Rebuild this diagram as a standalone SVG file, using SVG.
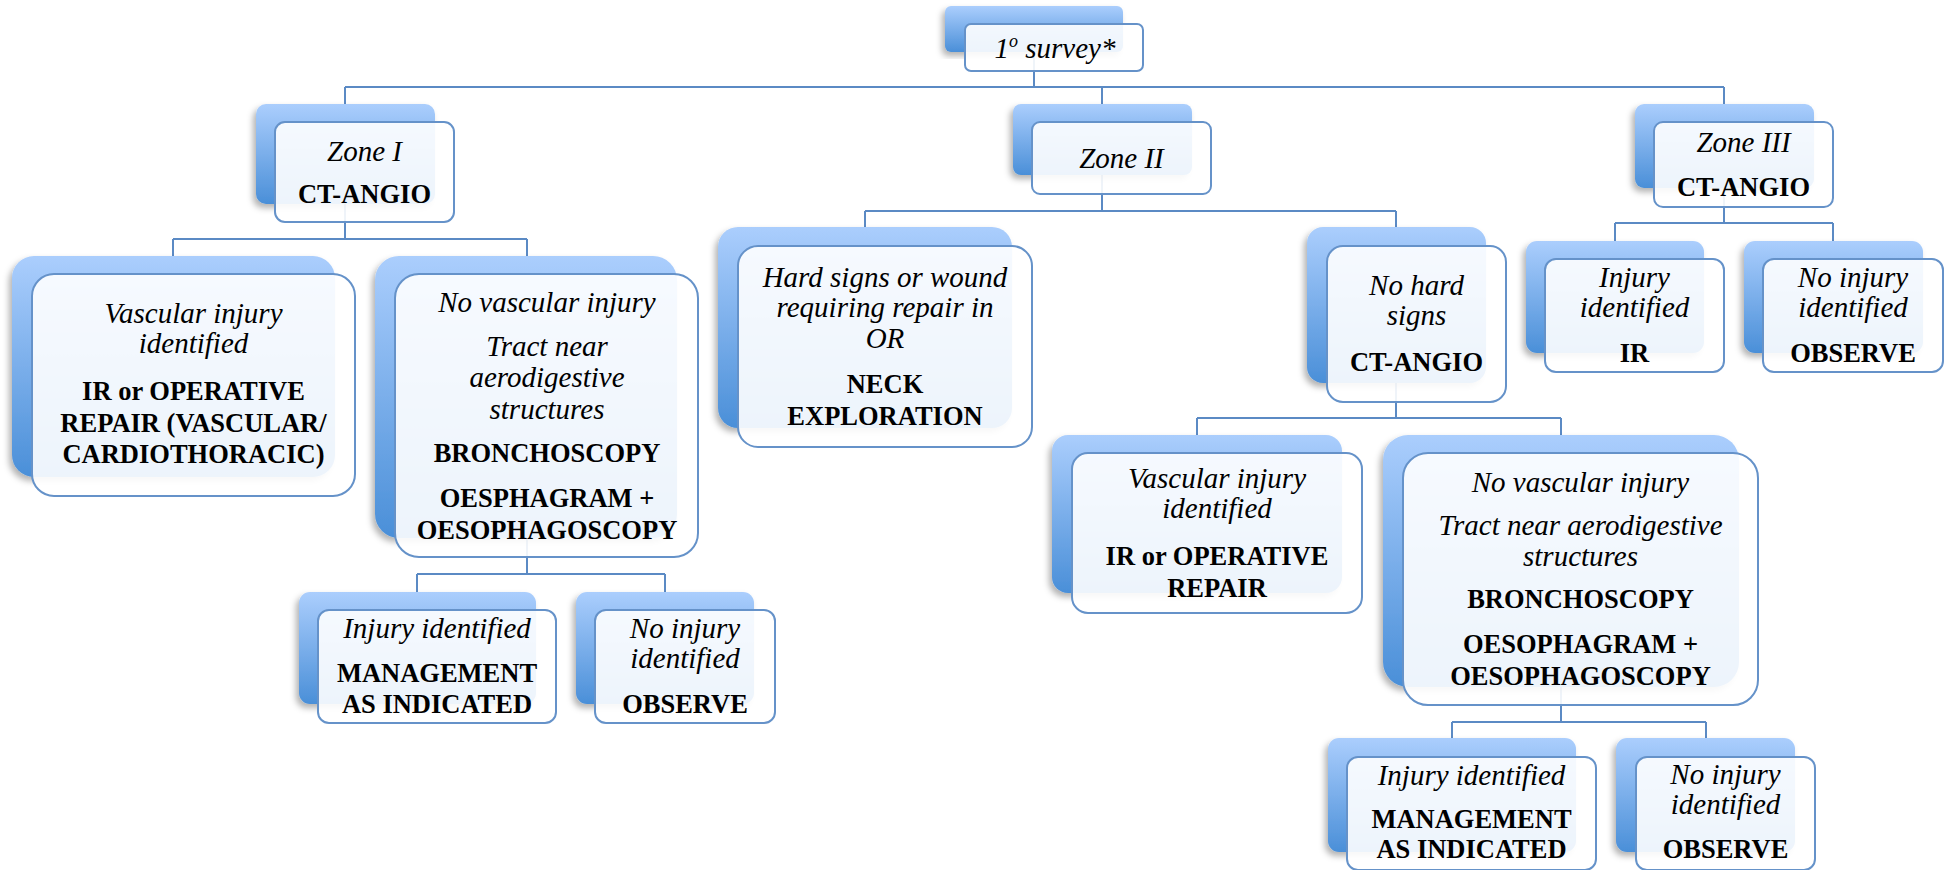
<svg xmlns="http://www.w3.org/2000/svg" width="1952" height="870" viewBox="0 0 1952 870">
<defs>
<linearGradient id="gb" x1="0" y1="0" x2="0" y2="1">
<stop offset="0" stop-color="#abcefd"/>
<stop offset="1" stop-color="#4a8fd8"/>
</linearGradient>
<filter id="sh" x="-10%" y="-10%" width="120%" height="125%">
<feDropShadow dx="-3" dy="4" stdDeviation="3" flood-color="#000" flood-opacity="0.3"/>
</filter>
<style>
.bk{fill:url(#gb);filter:url(#sh);}
.fr{fill:#fff;fill-opacity:0.9;stroke:#6592c9;stroke-width:2;}
.i{font-family:"Liberation Serif","Times New Roman",serif;font-style:italic;font-size:29px;text-anchor:middle;fill:#000;}
.b{font-family:"Liberation Serif","Times New Roman",serif;font-weight:bold;font-size:26.5px;text-anchor:middle;fill:#000;}
.cn{stroke:#5b8ac4;stroke-width:2;fill:none;}
</style>
</defs>
<rect width="1952" height="870" fill="#fff"/>
<g id="connectors" class="cn">
<path d="M1034 52V87M345 87H1724M345 87V104M1102 87V104M1724 87V104"/>
<path d="M345 203V239M173 239H527M173 239V256M527 239V256"/>
<path d="M527 538V574M417 574H665M417 574V592M665 574V592"/>
<path d="M1102 175V211M865 211H1396M865 211V227M1396 211V227"/>
<path d="M1396 383V418M1197 418H1561M1197 418V435M1561 418V435"/>
<path d="M1561 687V722M1452 722H1706M1452 722V738M1706 722V738"/>
<path d="M1724 188V223M1615 223H1833M1615 223V241M1833 223V241"/>
</g>
<g id="survey">
<rect class="bk" x="945" y="6" width="178" height="46" rx="6"/>
<rect class="fr" x="965" y="24" width="178" height="47" rx="6"/>
<text class="i" x="1055" y="58">1<tspan font-size="18" dy="-11">o</tspan><tspan dy="11"> survey*</tspan></text>
</g>
<g id="zone1">
<rect class="bk" x="256" y="104" width="179" height="100" rx="10"/>
<rect class="fr" x="275" y="122" width="179" height="100" rx="10"/>
<text class="i" x="364.5" y="161">Zone I</text>
<text class="b" x="364.5" y="203">CT-ANGIO</text>
</g>
<g id="zone2">
<rect class="bk" x="1013" y="104" width="179" height="71" rx="8"/>
<rect class="fr" x="1032" y="122" width="179" height="72" rx="8"/>
<text class="i" x="1121.5" y="168">Zone II</text>
</g>
<g id="zone3">
<rect class="bk" x="1635" y="104" width="179" height="84" rx="9"/>
<rect class="fr" x="1654" y="122" width="179" height="85" rx="9"/>
<text class="i" x="1743.5" y="152">Zone III</text>
<text class="b" x="1743.5" y="196">CT-ANGIO</text>
</g>
<g id="vascL">
<rect class="bk" x="12" y="256" width="323" height="221" rx="22"/>
<rect class="fr" x="32" y="274" width="323" height="222" rx="22"/>
<text class="i" x="193.5" y="323">Vascular injury</text>
<text class="i" x="193.5" y="353">identified</text>
<text class="b" x="193.5" y="400">IR or OPERATIVE</text>
<text class="b" x="193.5" y="432">REPAIR (VASCULAR/</text>
<text class="b" x="193.5" y="463">CARDIOTHORACIC)</text>
</g>
<g id="novascL">
<rect class="bk" x="375" y="256" width="302" height="282" rx="24"/>
<rect class="fr" x="395" y="274" width="303" height="283" rx="24"/>
<text class="i" x="547" y="312">No vascular injury</text>
<text class="i" x="547" y="356">Tract near</text>
<text class="i" x="547" y="387">aerodigestive</text>
<text class="i" x="547" y="419">structures</text>
<text class="b" x="547" y="462">BRONCHOSCOPY</text>
<text class="b" x="547" y="507">OESPHAGRAM +</text>
<text class="b" x="547" y="539">OESOPHAGOSCOPY</text>
</g>
<g id="hard">
<rect class="bk" x="718" y="227" width="294" height="201" rx="20"/>
<rect class="fr" x="738" y="246" width="294" height="201" rx="20"/>
<text class="i" x="885" y="287">Hard signs or wound</text>
<text class="i" x="885" y="317">requiring repair in</text>
<text class="i" x="885" y="348">OR</text>
<text class="b" x="885" y="393">NECK</text>
<text class="b" x="885" y="425">EXPLORATION</text>
</g>
<g id="nohard">
<rect class="bk" x="1307" y="227" width="179" height="156" rx="16"/>
<rect class="fr" x="1327" y="246" width="179" height="156" rx="16"/>
<text class="i" x="1416.5" y="295">No hard</text>
<text class="i" x="1416.5" y="325">signs</text>
<text class="b" x="1416.5" y="371">CT-ANGIO</text>
</g>
<g id="inj3">
<rect class="bk" x="1526" y="241" width="178" height="112" rx="11"/>
<rect class="fr" x="1545" y="259" width="179" height="113" rx="11"/>
<text class="i" x="1634.5" y="287">Injury</text>
<text class="i" x="1634.5" y="317">identified</text>
<text class="b" x="1634.5" y="362">IR</text>
</g>
<g id="noinj3">
<rect class="bk" x="1744" y="241" width="179" height="112" rx="11"/>
<rect class="fr" x="1763" y="259" width="180" height="113" rx="11"/>
<text class="i" x="1853" y="287">No injury</text>
<text class="i" x="1853" y="317">identified</text>
<text class="b" x="1853" y="362">OBSERVE</text>
</g>
<g id="vascR">
<rect class="bk" x="1052" y="435" width="290" height="158" rx="16"/>
<rect class="fr" x="1072" y="453" width="290" height="160" rx="16"/>
<text class="i" x="1217" y="488">Vascular injury</text>
<text class="i" x="1217" y="518">identified</text>
<text class="b" x="1217" y="565">IR or OPERATIVE</text>
<text class="b" x="1217" y="597">REPAIR</text>
</g>
<g id="novascR">
<rect class="bk" x="1383" y="435" width="356" height="252" rx="25"/>
<rect class="fr" x="1403" y="453" width="355" height="252" rx="25"/>
<text class="i" x="1580.5" y="492">No vascular injury</text>
<text class="i" x="1580.5" y="535">Tract near aerodigestive</text>
<text class="i" x="1580.5" y="566">structures</text>
<text class="b" x="1580.5" y="608">BRONCHOSCOPY</text>
<text class="b" x="1580.5" y="653">OESOPHAGRAM +</text>
<text class="b" x="1580.5" y="685">OESOPHAGOSCOPY</text>
</g>
<g id="injL">
<rect class="bk" x="299" y="592" width="237" height="112" rx="11"/>
<rect class="fr" x="318" y="610" width="238" height="113" rx="11"/>
<text class="i" x="437" y="638">Injury identified</text>
<text class="b" x="437" y="682">MANAGEMENT</text>
<text class="b" x="437" y="713">AS INDICATED</text>
</g>
<g id="noinjL">
<rect class="bk" x="576" y="592" width="178" height="112" rx="11"/>
<rect class="fr" x="595" y="610" width="180" height="113" rx="11"/>
<text class="i" x="685" y="638">No injury</text>
<text class="i" x="685" y="668">identified</text>
<text class="b" x="685" y="713">OBSERVE</text>
</g>
<g id="injBR">
<rect class="bk" x="1328" y="738" width="248" height="114" rx="11"/>
<rect class="fr" x="1347" y="757" width="249" height="113" rx="11"/>
<text class="i" x="1471.5" y="785">Injury identified</text>
<text class="b" x="1471.5" y="828">MANAGEMENT</text>
<text class="b" x="1471.5" y="858">AS INDICATED</text>
</g>
<g id="noinjBR">
<rect class="bk" x="1616" y="738" width="179" height="114" rx="11"/>
<rect class="fr" x="1636" y="757" width="179" height="113" rx="11"/>
<text class="i" x="1725.5" y="784">No injury</text>
<text class="i" x="1725.5" y="814">identified</text>
<text class="b" x="1725.5" y="858">OBSERVE</text>
</g>
</svg>
